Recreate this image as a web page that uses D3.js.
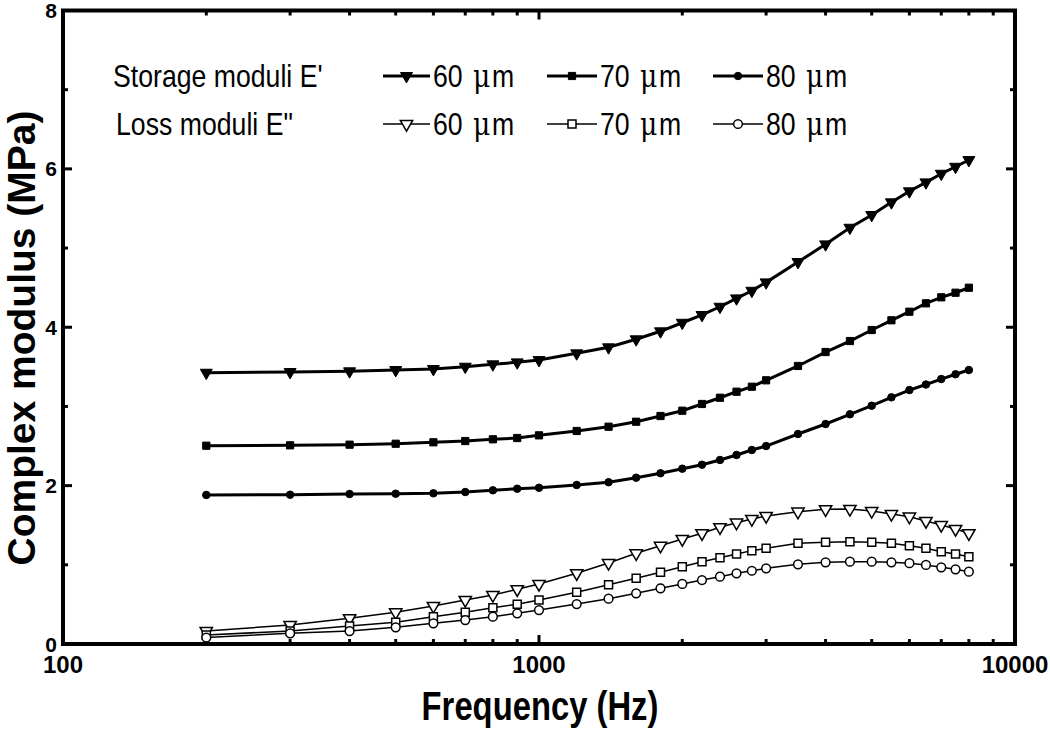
<!DOCTYPE html>
<html><head><meta charset="utf-8">
<script src="https://cdn.jsdelivr.net/npm/d3@7"></script>
<style>body{margin:0;background:#fff} svg{display:block}</style>
</head><body><svg id="c" width="1050" height="731"></svg>
<script>
// ---- data ----
const freqs = [200,300,400,500,600,700,800,900,1000,1200,1400,1600,1800,2000,2200,2400,2600,2800,3000,3500,4000,4500,5000,5500,6000,6500,7000,7500,8000];
const storage60 = [3.426,3.435,3.444,3.460,3.473,3.502,3.532,3.557,3.586,3.671,3.747,3.848,3.949,4.057,4.155,4.259,4.365,4.461,4.567,4.824,5.047,5.257,5.418,5.578,5.717,5.830,5.939,6.027,6.112];
const storage70 = [2.504,2.509,2.517,2.529,2.547,2.563,2.585,2.601,2.635,2.690,2.744,2.807,2.879,2.946,3.031,3.110,3.186,3.249,3.330,3.511,3.687,3.826,3.965,4.088,4.196,4.302,4.378,4.436,4.499];
const storage80 = [1.882,1.885,1.894,1.898,1.903,1.919,1.941,1.961,1.973,2.008,2.043,2.100,2.156,2.214,2.264,2.324,2.387,2.450,2.500,2.652,2.778,2.901,3.009,3.115,3.207,3.277,3.346,3.406,3.460];
const loss60 = [0.164,0.240,0.325,0.400,0.480,0.556,0.619,0.691,0.758,0.893,1.023,1.145,1.241,1.326,1.398,1.474,1.532,1.578,1.616,1.671,1.701,1.705,1.680,1.642,1.608,1.553,1.503,1.452,1.398];
const loss70 = [0.114,0.164,0.227,0.274,0.345,0.400,0.458,0.501,0.556,0.653,0.749,0.830,0.905,0.976,1.039,1.090,1.137,1.179,1.208,1.272,1.284,1.292,1.284,1.272,1.242,1.208,1.166,1.137,1.103];
const loss80 = [0.082,0.135,0.164,0.211,0.261,0.303,0.345,0.388,0.429,0.505,0.572,0.640,0.703,0.758,0.808,0.850,0.893,0.925,0.956,1.006,1.032,1.039,1.039,1.032,1.020,0.998,0.969,0.943,0.913];
const yMajorTicks = [0,2,4,6,8];
const yMinorTicks = [1,3,5,7];
const xMajorTicks = [100,1000,10000];
const xMinorTicks = [200,300,400,500,600,700,800,900,2000,3000,4000,5000,6000,7000,8000,9000];
const thicknessLabels = ["60", "70", "80"];
const unitLabel = "μm";
const legendRowLabels = ["Storage moduli E'", "Loss moduli E\""];
const xTitle = "Frequency (Hz)";
const yTitle = "Complex modulus (MPa)";

// ---- chart ----
const svg = d3.select("#c");
const font = "'Liberation Sans', Arial, Helvetica, sans-serif";
const L = 63, R = 1015, T = 10.5, B = 644;
const x = d3.scaleLog().domain([100,10000]).range([L,R]);
const y = d3.scaleLinear().domain([0,8]).range([B,T]);

const series = [
  {v: storage60, sym: d3.symbolTriangle, rot: 180, size: 62, fill: "#000", sw: 3, msw: 1},
  {v: storage70, sym: d3.symbolSquare, rot: 0, size: 52, fill: "#000", sw: 3, msw: 1},
  {v: storage80, sym: d3.symbolCircle, rot: 0, size: 44, fill: "#000", sw: 3, msw: 1},
  {v: loss60, sym: d3.symbolTriangle, rot: 180, size: 66, fill: "#fff", sw: 1.5, msw: 1.5},
  {v: loss70, sym: d3.symbolSquare, rot: 0, size: 64, fill: "#fff", sw: 1.5, msw: 1.5},
  {v: loss80, sym: d3.symbolCircle, rot: 0, size: 60, fill: "#fff", sw: 1.5, msw: 1.5}
];

// ticks (inward on all four sides)
const g = svg.append("g");
const tickW = 3;
function hTicks(vals, len) {
  vals.forEach(v => {
    g.append("line").attr("x1", L).attr("x2", L+len).attr("y1", y(v)).attr("y2", y(v)).attr("stroke","#000").attr("stroke-width",tickW);
    g.append("line").attr("x1", R).attr("x2", R-len).attr("y1", y(v)).attr("y2", y(v)).attr("stroke","#000").attr("stroke-width",tickW);
  });
}
function vTicks(vals, len) {
  vals.forEach(v => {
    g.append("line").attr("x1", x(v)).attr("x2", x(v)).attr("y1", B).attr("y2", B-len).attr("stroke","#000").attr("stroke-width",tickW);
    g.append("line").attr("x1", x(v)).attr("x2", x(v)).attr("y1", T).attr("y2", T+len).attr("stroke","#000").attr("stroke-width",tickW);
  });
}
hTicks(yMajorTicks, 9); hTicks(yMinorTicks, 5);
vTicks(xMajorTicks, 9); vTicks(xMinorTicks, 5);

// frame
svg.append("rect").attr("x",L).attr("y",T).attr("width",R-L).attr("height",B-T)
  .attr("fill","none").attr("stroke","#000").attr("stroke-width",4);

// tick labels
svg.append("g").selectAll("text").data(yMajorTicks).join("text")
  .attr("x", 57).attr("y", d => y(d)).attr("dy","0.36em")
  .attr("text-anchor","end").attr("font-family",font).attr("font-weight","bold").attr("font-size",21)
  .text(d => d);
svg.append("g").selectAll("text").data(xMajorTicks).join("text")
  .attr("x", d => x(d)).attr("y", 673)
  .attr("text-anchor","middle").attr("font-family",font).attr("font-weight","bold").attr("font-size",24)
  .text(d => d);

// axis titles
svg.append("text").attr("transform","translate(540,720) scale(0.82,1)")
  .attr("text-anchor","middle").attr("font-family",font).attr("font-weight","bold").attr("font-size",40)
  .text(xTitle);
svg.append("text").attr("transform","translate(35,338) rotate(-90)")
  .attr("text-anchor","middle").attr("font-family",font).attr("font-weight","bold").attr("font-size",39)
  .text(yTitle);

// lines and markers
const line = d3.line().x((d,i) => x(freqs[i])).y(d => y(d));
series.forEach(s => {
  svg.append("path").datum(s.v).attr("d", line).attr("fill","none").attr("stroke","#000").attr("stroke-width", s.sw);
});
series.forEach(s => {
  const sym = d3.symbol().type(s.sym).size(s.size);
  svg.append("g").selectAll("path").data(s.v).join("path")
    .attr("transform", (d,i) => `translate(${x(freqs[i])},${y(d)}) rotate(${s.rot})`)
    .attr("d", sym).attr("fill", s.fill).attr("stroke","#000").attr("stroke-width", s.msw);
});

// legend
const lg = svg.append("g");
const rowY = [76, 124];
const segX = [[383,430],[547,597],[713,763]];
const lfs = 31, lsx = 0.86;
legendRowLabels.forEach((lab, r) => {
  lg.append("text").attr("transform", `translate(${r === 0 ? 113 : 116},${rowY[r] + 11}) scale(${lsx},1)`)
    .attr("font-family",font).attr("font-size",lfs).text(lab);
  segX.forEach((sx, k) => {
    const s = series[r*3 + k];
    lg.append("line").attr("x1", sx[0]).attr("x2", sx[1]).attr("y1", rowY[r]).attr("y2", rowY[r])
      .attr("stroke","#000").attr("stroke-width", s.sw);
    lg.append("path").attr("transform", `translate(${(sx[0]+sx[1])/2},${rowY[r]}) rotate(${s.rot})`)
      .attr("d", d3.symbol().type(s.sym).size(s.size)).attr("fill", s.fill).attr("stroke","#000").attr("stroke-width", s.msw);
    const t = lg.append("text").attr("transform", `translate(${sx[1] + 3},${rowY[r] + 11}) scale(${lsx},1)`)
      .attr("font-family",font).attr("font-size",lfs);
    t.append("tspan").text(thicknessLabels[k]);
    t.append("tspan").attr("dx", 12).attr("font-family","'DejaVu Serif', 'Liberation Serif', serif").attr("font-size", lfs).text(unitLabel.charAt(0));
    t.append("tspan").attr("dx", 2).text(unitLabel.slice(1));
  });
});
</script></body></html>
